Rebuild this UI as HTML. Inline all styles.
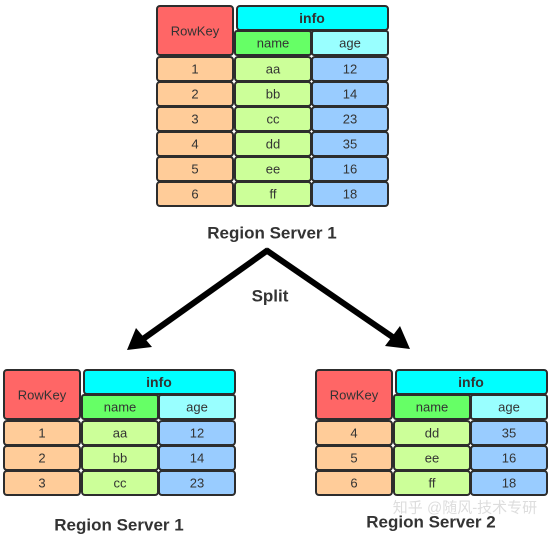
<!DOCTYPE html>
<html><head><meta charset="utf-8"><style>
html,body{margin:0;padding:0;background:#fff;}
svg{display:block;}
text{font-family:"Liberation Sans","Noto Sans CJK SC",sans-serif;text-anchor:middle;dominant-baseline:central;}
.c{stroke:#2d2d2d;stroke-width:2;}
.t{font-size:13px;fill:#333;}
.h{font-size:14px;font-weight:bold;fill:#333;}
.l{font-size:17px;font-weight:bold;fill:#333;}
</style></head><body>
<svg width="554" height="534" viewBox="0 0 554 534" xmlns="http://www.w3.org/2000/svg">
<defs>
<g id="hdr">
<rect class="c" x="0" y="0" width="76" height="49" rx="3" fill="#FF6666"/>
<rect class="c" x="80" y="0" width="151" height="24" rx="3" fill="#00FFFF"/>
<rect class="c" x="78" y="25" width="76" height="24" rx="2" fill="#66FF66"/>
<rect class="c" x="155" y="25" width="76" height="24" rx="2" fill="#99FFFF"/>
<text class="t" x="38" y="25" fill="#333">RowKey</text>
<text class="h" x="155" y="12">info</text>
<text class="t" x="116" y="37">name</text>
<text class="t" x="193" y="37">age</text>
</g>
<g id="row">
<rect class="c" x="0" y="0" width="76" height="24" rx="3" fill="#FFCC99"/>
<rect class="c" x="78" y="0" width="76" height="24" rx="3" fill="#CCFF99"/>
<rect class="c" x="155" y="0" width="76" height="24" rx="3" fill="#99CCFF"/>
</g>
</defs>

<g transform="translate(157,6)">
<use href="#hdr"/>
<g transform="translate(0,51)"><use href="#row"/><text class="t" x="38" y="12">1</text><text class="t" x="116" y="12">aa</text><text class="t" x="193" y="12">12</text></g>
<g transform="translate(0,76)"><use href="#row"/><text class="t" x="38" y="12">2</text><text class="t" x="116" y="12">bb</text><text class="t" x="193" y="12">14</text></g>
<g transform="translate(0,101)"><use href="#row"/><text class="t" x="38" y="12">3</text><text class="t" x="116" y="12">cc</text><text class="t" x="193" y="12">23</text></g>
<g transform="translate(0,126)"><use href="#row"/><text class="t" x="38" y="12">4</text><text class="t" x="116" y="12">dd</text><text class="t" x="193" y="12">35</text></g>
<g transform="translate(0,151)"><use href="#row"/><text class="t" x="38" y="12">5</text><text class="t" x="116" y="12">ee</text><text class="t" x="193" y="12">16</text></g>
<g transform="translate(0,176)"><use href="#row"/><text class="t" x="38" y="12">6</text><text class="t" x="116" y="12">ff</text><text class="t" x="193" y="12">18</text></g>
</g>
<text class="l" x="272" y="233">Region Server 1</text>

<line x1="268" y1="250" x2="143" y2="339" stroke="#000" stroke-width="6"/>
<polygon points="127,350 136,328 152,347" fill="#000"/>
<line x1="266" y1="250" x2="394" y2="338" stroke="#000" stroke-width="6"/>
<polygon points="410,349 385,346 400,326" fill="#000"/>
<text class="l" x="270" y="296">Split</text>

<g transform="translate(4,370)">
<use href="#hdr"/>
<g transform="translate(0,51)"><use href="#row"/><text class="t" x="38" y="12">1</text><text class="t" x="116" y="12">aa</text><text class="t" x="193" y="12">12</text></g>
<g transform="translate(0,76)"><use href="#row"/><text class="t" x="38" y="12">2</text><text class="t" x="116" y="12">bb</text><text class="t" x="193" y="12">14</text></g>
<g transform="translate(0,101)"><use href="#row"/><text class="t" x="38" y="12">3</text><text class="t" x="116" y="12">cc</text><text class="t" x="193" y="12">23</text></g>
</g>
<text class="l" x="119" y="525">Region Server 1</text>

<g transform="translate(316,370)">
<use href="#hdr"/>
<g transform="translate(0,51)"><use href="#row"/><text class="t" x="38" y="12">4</text><text class="t" x="116" y="12">dd</text><text class="t" x="193" y="12">35</text></g>
<g transform="translate(0,76)"><use href="#row"/><text class="t" x="38" y="12">5</text><text class="t" x="116" y="12">ee</text><text class="t" x="193" y="12">16</text></g>
<g transform="translate(0,101)"><use href="#row"/><text class="t" x="38" y="12">6</text><text class="t" x="116" y="12">ff</text><text class="t" x="193" y="12">18</text></g>
</g>
<text x="465" y="508" style="font-size:15px;fill:#ddd;">知乎 @随风-技术专研</text>
<text class="l" x="431" y="522">Region Server 2</text>
</svg>
</body></html>
